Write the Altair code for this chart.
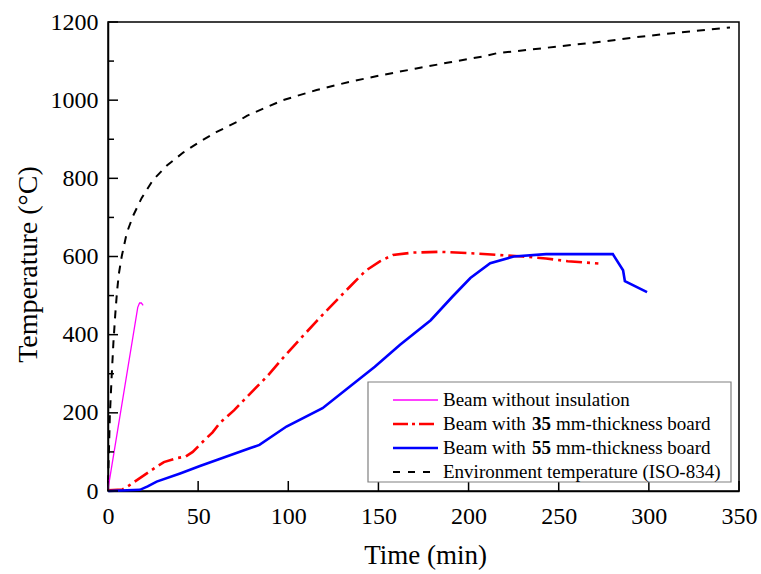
import altair as alt
import pandas as pd

# ---- data (time in min, temperature in °C) ----
bare_t = [0, 16.5, 17.5, 18.5, 19.5]
bare_T = [5, 470, 481, 481, 475]

b35_t = [0, 8, 10.4, 25, 31, 38, 43, 47, 53, 58, 62, 70, 79, 88, 97, 106, 116,
         123, 134, 143, 151, 158, 169, 184, 199, 216, 230, 243, 255, 272]
b35_T = [2, 4, 10, 56, 74, 84, 88, 100, 128, 150, 174, 207, 250, 292, 340, 386,
         436, 470, 522, 564, 588, 604, 610, 612, 609, 604, 600, 595, 588, 582]

b55_t = [0, 17.7, 22, 27, 40, 51, 65, 79, 84, 99, 119, 134, 148, 162, 179, 191,
         201, 212, 225, 243, 262, 280, 285.7, 286.7, 299]
b55_T = [0, 3, 12, 24, 45, 64, 87, 110, 118, 165, 212, 267, 318, 374, 437, 497,
         545, 583, 600, 606, 606, 606, 565, 537, 509]

iso_t = [0, 0.5, 1, 2, 3, 4, 5, 6, 7.6, 10.4, 14, 18.7, 25, 32.5, 41.7, 51, 60,
         71.4, 77, 97, 115.7, 134, 152.7, 171, 189.7, 208, 215.6, 274.6, 291,
         310, 328, 345]
iso_T = [20, 100, 190, 290, 380, 450, 510, 555, 600, 660, 705, 750, 796, 832,
         866, 894, 918, 944, 960, 1000, 1026, 1047, 1065, 1081, 1097, 1112, 1120,
         1150, 1160, 1170, 1178, 1186]

x_ticks = [0, 50, 100, 150, 200, 250, 300, 350]
y_ticks = [0, 200, 400, 600, 800, 1000, 1200]
y_minor = [100, 300, 500, 700, 900, 1100]

legend_rows = [
    ("Beam without insulation", None, None),
    ("Beam with", "35", "mm-thickness board"),
    ("Beam with", "55", "mm-thickness board"),
    ("Environment temperature (ISO-834)", None, None),
]

FONT = "Liberation Serif"
W, H = 631, 469

xs = alt.Scale(domain=[0, 350], nice=False, zero=False)
ys = alt.Scale(domain=[0, 1200], nice=False)


def frame(t, T):
    return pd.DataFrame({"t": t, "T": T})


x_axis = alt.Axis(
    values=x_ticks, format="d", tickSize=0, labelFont=FONT, labelFontSize=24,
    labelPadding=13, labelColor="black", labelFlush=False, labelOverlap=False,
    grid=False, domainColor="black", domainWidth=1.5, title="Time (min)",
    titleFont=FONT, titleFontSize=27, titleFontWeight="normal", titleColor="black",
    titleX=317, titleY=72, titleBaseline="alphabetic", titleAlign="center",
)
y_axis = alt.Axis(
    values=y_ticks, format="d", tickSize=0, labelFont=FONT, labelFontSize=24,
    labelPadding=10, labelColor="black", labelOverlap=False, grid=False,
    domainColor="black", domainWidth=1.5, title="Temperature (°C)", titleFont=FONT,
    titleFontSize=28, titleFontWeight="normal", titleColor="black", titleX=-80,
    titleY=242, titleAngle=-90, titleBaseline="middle", titleAlign="center",
)


def X(field):
    return alt.X(field, scale=xs, axis=x_axis)


def Y(field):
    return alt.Y(field, scale=ys, axis=y_axis)


def curve(t, T, **style):
    return alt.Chart(frame(t, T)).mark_line(**style).encode(x=X("t:Q"), y=Y("T:Q"))


iso = curve(iso_t, iso_T, color="black", strokeWidth=2, strokeDash=[8, 7])
red = curve(b35_t, b35_T, color="#ff0000", strokeWidth=2.6, strokeDash=[16, 5, 3, 5])
blue = curve(b55_t, b55_T, color="#0000ff", strokeWidth=2.6)
pink = curve(bare_t, bare_T, color="#ff00ff", strokeWidth=1.3)

# inward tick marks
ymaj = alt.Chart(pd.DataFrame({"T": y_ticks})).mark_rule(color="black", strokeWidth=1.5).encode(
    y=Y("T:Q"), x=alt.value(0), x2=alt.value(10))
ymin = alt.Chart(pd.DataFrame({"T": y_minor})).mark_rule(color="black", strokeWidth=1.5).encode(
    y=Y("T:Q"), x=alt.value(0), x2=alt.value(6))
xmaj = alt.Chart(pd.DataFrame({"t": x_ticks})).mark_rule(color="black", strokeWidth=1.5).encode(
    x=X("t:Q"), y=alt.value(H), y2=alt.value(H - 10))

# legend
one = pd.DataFrame({"a": [0]})
box = alt.Chart(one).mark_rect(fill="white", stroke="#808080", strokeWidth=1.2).encode(
    x=alt.value(260), x2=alt.value(623), y=alt.value(360), y2=alt.value(460))

styles = [
    dict(color="#ff00ff", strokeWidth=1.3),
    dict(color="#ff0000", strokeWidth=2.6, strokeDash=[15, 4, 3, 4]),
    dict(color="#0000ff", strokeWidth=2.6),
    dict(color="black", strokeWidth=2, strokeDash=[7, 8]),
]
row_y = [378, 402, 426, 450]
legend_layers = [box]
for (pre, bold, post), st, ry in zip(legend_rows, styles, row_y):
    legend_layers.append(alt.Chart(one).mark_rule(**st).encode(
        x=alt.value(285), x2=alt.value(330), y=alt.value(ry)))
    legend_layers.append(alt.Chart(one).mark_text(
        align="left", baseline="middle", font=FONT, fontSize=19, color="black"
    ).encode(x=alt.value(335), y=alt.value(ry), text=alt.value(pre)))
    if bold:
        legend_layers.append(alt.Chart(one).mark_text(
            align="left", baseline="middle", font=FONT, fontSize=19, fontWeight="bold", color="black"
        ).encode(x=alt.value(424), y=alt.value(ry), text=alt.value(bold)))
        legend_layers.append(alt.Chart(one).mark_text(
            align="left", baseline="middle", font=FONT, fontSize=19, color="black"
        ).encode(x=alt.value(448), y=alt.value(ry), text=alt.value(post)))

chart = alt.layer(
    iso, red, blue, pink, ymaj, ymin, xmaj, *legend_layers
).properties(
    width=W, height=H, autosize=alt.AutoSizeParams(type="none"),
    padding={"left": 108, "top": 22, "right": 22, "bottom": 83},
    background="white",
).configure_view(stroke="black", strokeWidth=1.5)

chart.save("out.html", embed_options={"renderer": "svg", "actions": False})
